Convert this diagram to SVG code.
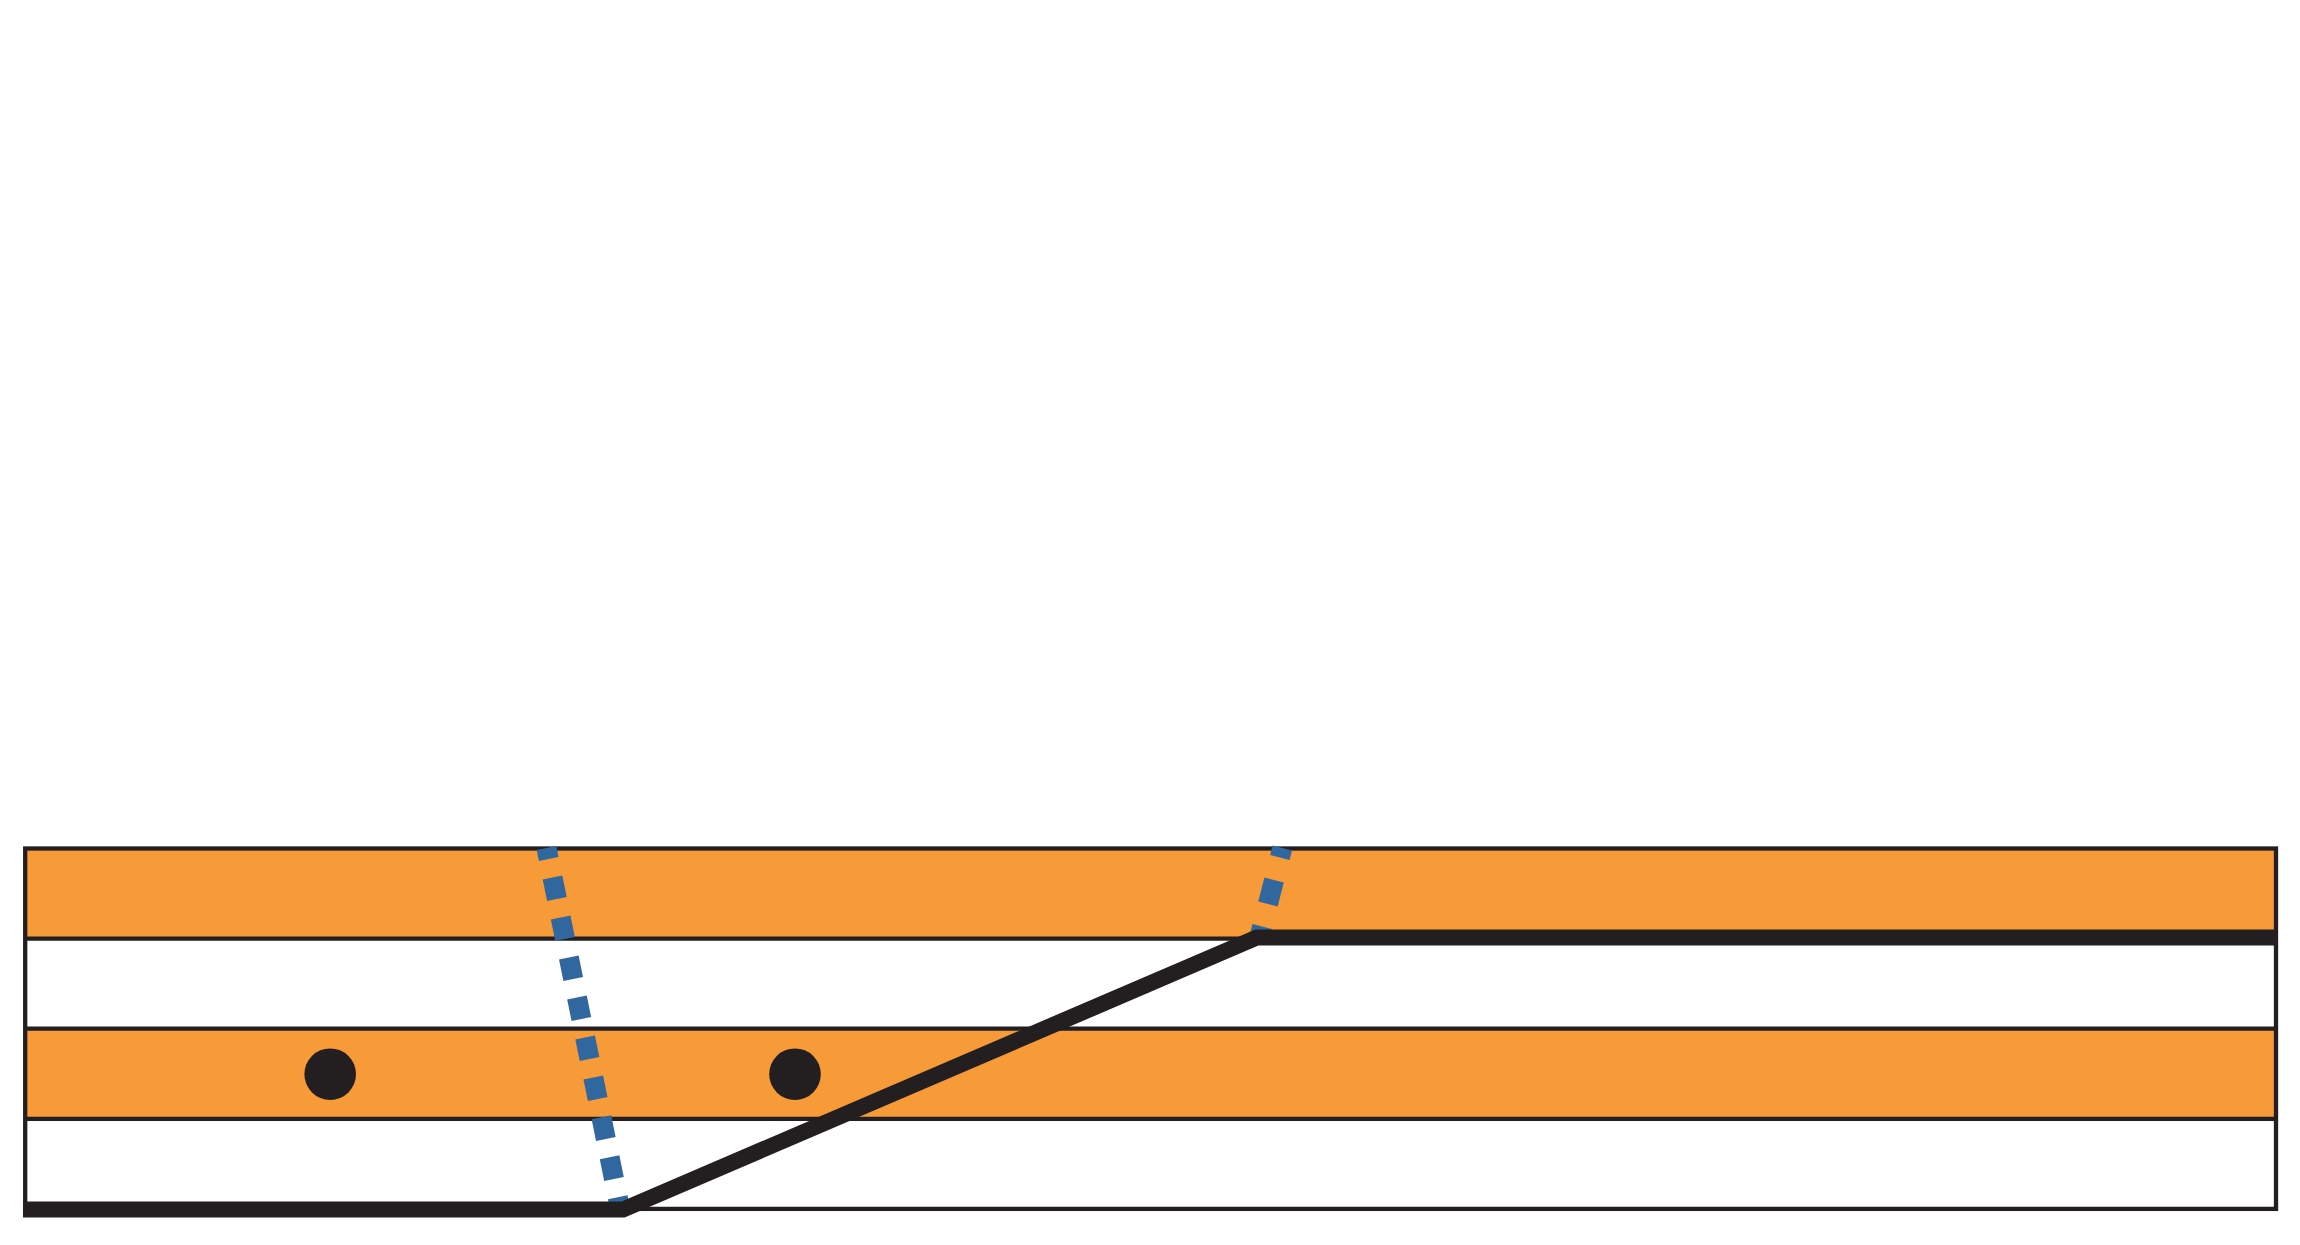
<svg xmlns="http://www.w3.org/2000/svg" width="2300" height="1245" viewBox="0 0 2300 1245">
  <style>
    .band-orange { fill: #F79A38; stroke: none; }
    .band-white { fill: #FFFFFF; stroke: none; }
    .thin { fill: none; stroke: #231F20; stroke-width: 4.3; }
    .dash { fill: none; stroke: #31679F; stroke-width: 20; stroke-linecap: butt; }
    .dot { fill: #231F20; }
    .thick { fill: none; stroke: #231F20; stroke-width: 16; stroke-linejoin: miter; stroke-linecap: butt; }
  </style>
  <rect width="2300" height="1245" fill="#FFFFFF"/>
  <g id="layers">
    <rect class="band-orange" x="25.2" y="848.5" width="2250.8" height="90.1"/>
    <rect class="band-white" x="25.2" y="938.6" width="2250.8" height="90.1"/>
    <rect class="band-orange" x="25.2" y="1028.7" width="2250.8" height="90.1"/>
    <rect class="band-white" x="25.2" y="1118.8" width="2250.8" height="90.1"/>
  </g>
  <g id="outlines">
    <rect class="thin" x="25.2" y="848.5" width="2250.8" height="360.4"/>
    <line class="thin" x1="25.2" y1="938.6" x2="2276" y2="938.6"/>
    <line class="thin" x1="25.2" y1="1028.7" x2="2276" y2="1028.7"/>
    <line class="thin" x1="25.2" y1="1118.8" x2="2276" y2="1118.8"/>
  </g>
  <g id="connectors">
    <path id="dashed-left" class="dash" d="M546.5,848 L619,1203.5" stroke-dasharray="22 18.8" stroke-dashoffset="10.7"/>
    <path id="dashed-right" class="dash" d="M1282.3,848 L1259.5,937" stroke-dasharray="24.8 23.2" stroke-dashoffset="15"/>
  </g>
  <g id="dot-1">
    <circle class="dot" cx="330.2" cy="1074.2" r="25.8"/>
  </g>
  <g id="dot-2">
    <circle class="dot" cx="795" cy="1074.2" r="25.8"/>
  </g>
  <g id="thick-line">
    <polyline class="thick" points="23,1209.5 623,1209.5 1257,937.5 2278,937.5"/>
  </g>
</svg>
